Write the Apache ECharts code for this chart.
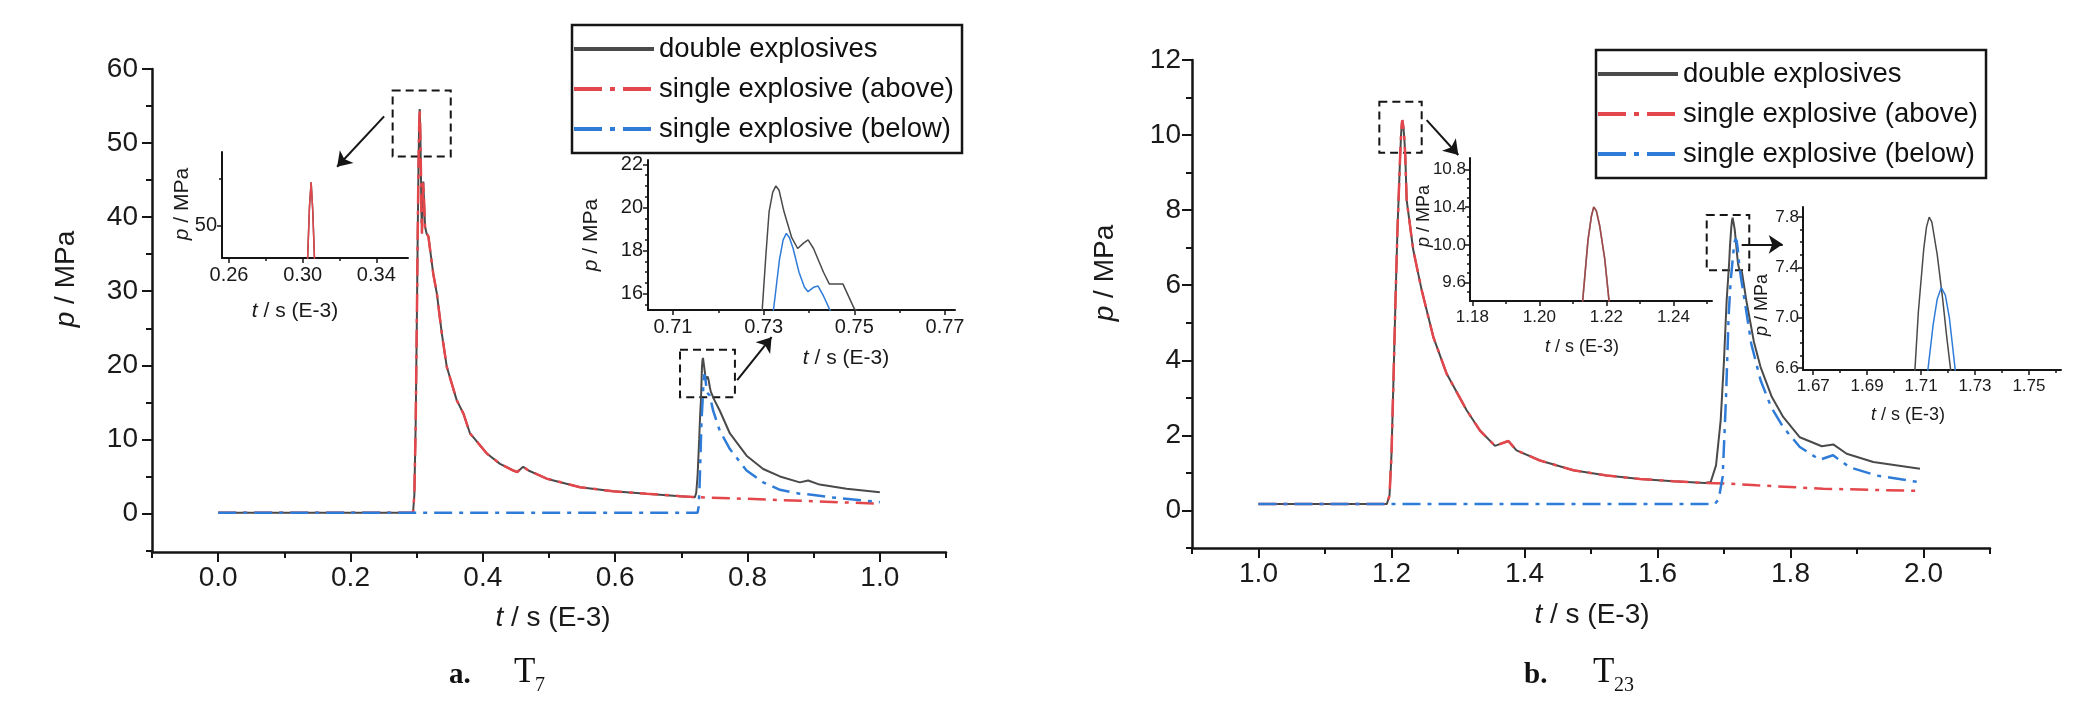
<!DOCTYPE html>
<html>
<head>
<meta charset="utf-8">
<title>p-t curves T7 / T23</title>
<script src="https://cdn.jsdelivr.net/npm/echarts@6.0.0/dist/echarts.min.js"></script>
<style>
  html, body { margin: 0; padding: 0; background: #fff; }
  #chart { width: 2074px; height: 713px; }
</style>
</head>
<body>
<div id="chart"></div>
<script>
/*----- data: a. T7 -----*/
var aWave1T = [0.000, 0.2945, 0.2965, 0.2985, 0.3005, 0.3015, 0.3027, 0.3037, 0.3046, 0.3055, 0.3064, 0.3072, 0.3080, 0.3090,
  0.3100, 0.3110, 0.3127, 0.3150, 0.3177, 0.3250, 0.3305, 0.3330, 0.3380, 0.3455, 0.3605, 0.3706, 0.3807, 0.4060, 0.4260,
  0.4460, 0.4520, 0.4610, 0.4690, 0.4965, 0.5470, 0.5970, 0.6475, 0.6980, 0.7205];
var aWave1P = [0.1, 0.1, 2.5, 12, 28, 37, 46.5, 52, 54.6, 51.5, 46.5, 40.5, 37.8, 42,
  44.8, 42.5, 38.7, 37.8, 37.4, 32.4, 29.7, 27.9, 24.3, 19.8, 15.3, 13.5, 10.8, 8.1, 6.7,
  5.8, 5.6, 6.3, 5.8, 4.7, 3.55, 3.0, 2.66, 2.34, 2.2];
var aDoubleT = [0.7225, 0.7245, 0.7270, 0.7285, 0.7297, 0.7305, 0.7312, 0.7320, 0.7327, 0.7334, 0.7345, 0.7362, 0.7375, 0.7388,
  0.7398, 0.7410, 0.7432, 0.7445, 0.7475, 0.7500, 0.7580, 0.7734, 0.7986, 0.8237, 0.8490, 0.8790, 0.8917, 0.9090, 0.9497, 1.0000];
var aDoubleP = [2.8, 5.0, 10.0, 13.5, 15.3, 17.8, 19.8, 20.7, 21.0, 20.8, 19.8, 18.6, 18.1, 18.35,
  18.5, 18.1, 17.0, 16.45, 16.45, 15.3, 13.9, 10.8, 7.8, 6.0, 5.0, 4.2, 4.46, 3.9, 3.34, 2.88];
var aAboveT = [0.7986, 0.8990, 1.0000];
var aAboveP = [1.98, 1.66, 1.31];
var aBelowT = [0.000, 0.7245, 0.7260, 0.7275, 0.7290, 0.7305, 0.7322, 0.7335, 0.7343, 0.7350, 0.7357, 0.7365, 0.7378, 0.7390,
  0.7398, 0.7410, 0.7420, 0.7432, 0.7445, 0.7480, 0.7580, 0.7734, 0.7986, 0.8237, 0.8490, 0.8790, 0.8940, 0.9245, 1.0000];
var aBelowP = [0.1, 0.1, 0.8, 3.5, 8.0, 12.5, 15.3, 17.6, 18.5, 18.8, 18.6, 18.1, 17.0, 16.3,
  16.1, 16.3, 16.36, 15.9, 15.3, 13.9, 11.2, 8.7, 5.8, 4.2, 3.2, 2.66, 2.57, 2.2, 1.53];

/*----- data: b. T23 -----*/
var bWave1T = [1.000, 1.193, 1.197, 1.200, 1.203, 1.206, 1.209, 1.2115, 1.2129, 1.2145, 1.2155, 1.2162, 1.2170, 1.2180, 1.2195,
  1.2208, 1.2228, 1.2328, 1.2454, 1.2629, 1.2830, 1.3130, 1.3330, 1.3556, 1.3757, 1.3880, 1.4233, 1.4734, 1.5236, 1.5737,
  1.6238, 1.6714];
var bWave1P = [0.17, 0.17, 0.4, 1.5, 3.5, 5.6, 7.5, 8.7, 9.4, 10.05, 10.3, 10.4, 10.36, 10.2, 9.85,
  9.4, 8.27, 6.93, 5.87, 4.62, 3.64, 2.67, 2.13, 1.72, 1.85, 1.6, 1.33, 1.07, 0.93, 0.84,
  0.78, 0.73];
var bDoubleT = [1.680, 1.688, 1.695, 1.700, 1.704, 1.7077, 1.709, 1.711, 1.712, 1.713, 1.714, 1.716, 1.718, 1.7195, 1.721,
  1.723, 1.727, 1.7335, 1.745, 1.755, 1.772, 1.789, 1.814, 1.847, 1.8643, 1.8845, 1.9245, 1.9947];
var bDoubleP = [0.76, 1.2, 2.4, 4.0, 5.6, 6.58, 7.05, 7.55, 7.72, 7.8, 7.76, 7.5, 7.15, 6.85, 6.58,
  6.42, 6.35, 5.6, 4.49, 3.82, 3.02, 2.49, 1.95, 1.71, 1.76, 1.51, 1.29, 1.11];
var bAboveT = [1.700, 1.749, 1.849, 1.995];
var bAboveP = [0.72, 0.67, 0.58, 0.52];
var bBelowT = [1.000, 1.686, 1.692, 1.698, 1.703, 1.707, 1.710, 1.7125, 1.7145, 1.716, 1.7175, 1.719, 1.7205, 1.7227, 1.7255,
  1.731, 1.741, 1.755, 1.771, 1.789, 1.814, 1.844, 1.864, 1.889, 1.9296, 1.9947];
var bBelowP = [0.17, 0.17, 0.3, 0.9, 3.0, 5.2, 6.1, 6.58, 6.95, 7.15, 7.24, 7.18, 7.0, 6.58, 6.2,
  5.6, 4.44, 3.47, 2.75, 2.22, 1.69, 1.35, 1.47, 1.15, 0.93, 0.75];

/*----- tick values -----*/
var aXMajor = [0, 0.2, 0.4, 0.6, 0.8, 1.0];
var aXMinor = [-0.1, 0.1, 0.3, 0.5, 0.7, 0.9, 1.1];
var aYMajor = [0, 10, 20, 30, 40, 50, 60];
var aYMinor = [-5, 5, 15, 25, 35, 45, 55];
var bXMajor = [1.0, 1.2, 1.4, 1.6, 1.8, 2.0];
var bXMinor = [0.9, 1.1, 1.3, 1.5, 1.7, 1.9, 2.1];
var bYMajor = [0, 2, 4, 6, 8, 10, 12];
var bYMinor = [-1, 1, 3, 5, 7, 9, 11];
var i1XMajor = [0.26, 0.30, 0.34];
var i1XMinor = [0.28, 0.32];
var i1YMajor = [50];
var i1YMinor = [55];
var i2XMajor = [0.71, 0.73, 0.75, 0.77];
var i2XMinor = [0.72, 0.74, 0.76];
var i2YMajor = [16, 18, 20, 22];
var i2YMinor = [15.5, 16.5, 17, 17.5, 18.5, 19, 19.5, 20.5, 21, 21.5];
var i3XMajor = [1.18, 1.20, 1.22, 1.24];
var i3XMinor = [1.19, 1.21, 1.23, 1.25];
var i3YMajor = [9.6, 10.0, 10.4, 10.8];
var i3YMinor = [9.5, 9.7, 9.8, 9.9, 10.1, 10.2, 10.3, 10.5, 10.6, 10.7];
var i4XMajor = [1.67, 1.69, 1.71, 1.73, 1.75];
var i4XMinor = [1.68, 1.70, 1.72, 1.74, 1.76];
var i4YMajor = [6.6, 7.0, 7.4, 7.8];
var i4YMinor = [6.7, 6.8, 6.9, 7.1, 7.2, 7.3, 7.5, 7.6, 7.7];

/*----- zoom boxes [t1, p1, t2, p2] and arrows [t1, p1, t2, p2] -----*/
var aBoxes = [[0.2637, 57.1, 0.3515, 48.2], [0.698, 22.1, 0.781, 15.7]];
var aArrows = [[0.2508, 53.6, 0.1798, 46.8], [0.7844, 18.0, 0.8364, 23.8]];
var bBoxes = [[1.1817, 10.89, 1.2454, 9.53], [1.674, 7.87, 1.738, 6.4]];
var bArrows = [[1.2529, 10.4, 1.3005, 9.47], [1.7266, 7.09, 1.7883, 7.09]];

var names = ['double explosives', 'single explosive (above)', 'single explosive (below)'];

var FONT = "'Liberation Sans', Arial, sans-serif";
var SERIF = "'Liberation Serif', 'DejaVu Serif', serif";
var INK = '#151515';
var C_BLACK = '#4a4a4a', C_RED = '#e4474b', C_BLUE = '#2f7cd8';
var DASHDOT = [18, 7, 4, 7];

function zip(t, p) {
  return t.map(function (v, i) { return [v, p[i]]; });
}

var aWave1 = zip(aWave1T, aWave1P);
var aDouble = aWave1.concat(zip(aDoubleT, aDoubleP));
var aAbove = aWave1.concat(zip(aAboveT, aAboveP));
var aBelow = zip(aBelowT, aBelowP);
var bWave1 = zip(bWave1T, bWave1P);
var bDouble = bWave1.concat(zip(bDoubleT, bDoubleP));
var bAbove = bWave1.concat(zip(bAboveT, bAboveP));
var bBelow = zip(bBelowT, bBelowP);

/*----- grids -----*/
var grids = [
  { left: 152, top: 69, width: 794, height: 483 },   // a main
  { left: 1192, top: 60, width: 798, height: 488 },  // b main
  { left: 222, top: 152, width: 186, height: 106 },  // a inset 1
  { left: 648, top: 160, width: 307, height: 150 },  // a inset 2
  { left: 1470, top: 158, width: 242, height: 143 }, // b inset 1
  { left: 1803, top: 207, width: 258, height: 163 }  // b inset 2
];

var xAxes = [], yAxes = [];

function axisPair(list, dim, gi, min, max, major, minor, o) {
  var pos = dim === 'x' ? 'bottom' : 'left';
  list.push({
    type: 'value', gridIndex: gi, position: pos, min: min, max: max,
    splitLine: { show: false },
    axisLine: { show: true, onZero: false, lineStyle: { color: INK, width: o.lw } },
    axisTick: { show: true, inside: false, length: o.tl, customValues: major, lineStyle: { color: INK, width: o.tw } },
    axisLabel: {
      show: true, customValues: major, margin: o.margin, fontSize: o.fs, fontFamily: FONT, color: '#1a1a1a',
      formatter: function (v) { return v.toFixed(o.dec); }
    }
  });
  list.push({
    type: 'value', gridIndex: gi, position: pos, min: min, max: max,
    splitLine: { show: false },
    axisLine: { show: false, onZero: false },
    axisTick: { show: true, inside: false, length: o.ml, customValues: minor, lineStyle: { color: INK, width: o.tw } },
    axisLabel: { show: false }
  });
}

var mainX = { lw: 2.5, tl: 10, ml: 6, tw: 2, margin: 12, fs: 28 };
axisPair(xAxes, 'x', 0, -0.1, 1.1, aXMajor, aXMinor, Object.assign({ dec: 1 }, mainX));
axisPair(yAxes, 'y', 0, -5.2, 60, aYMajor, aYMinor, Object.assign({ dec: 0 }, mainX, { margin: 14 }));
axisPair(xAxes, 'x', 1, 0.9, 2.1, bXMajor, bXMinor, Object.assign({ dec: 1 }, mainX));
axisPair(yAxes, 'y', 1, -1, 12, bYMajor, bYMinor, Object.assign({ dec: 0 }, mainX, { margin: 11 }));

var insetA = { lw: 2, tl: 5, ml: 3, tw: 1.5, margin: 7, fs: 20 };
axisPair(xAxes, 'x', 2, 0.2562, 0.3572, i1XMajor, i1XMinor, Object.assign({ dec: 2 }, insetA));
axisPair(yAxes, 'y', 2, 46.5, 57.85, i1YMajor, i1YMinor, Object.assign({ dec: 0 }, insetA, { margin: 5 }));
axisPair(xAxes, 'x', 3, 0.7045, 0.7722, i2XMajor, i2XMinor, Object.assign({ dec: 2 }, insetA));
axisPair(yAxes, 'y', 3, 15.25, 22.2, i2YMajor, i2YMinor, Object.assign({ dec: 0 }, insetA, { margin: 5 }));

var insetB = { lw: 2, tl: 5, ml: 3, tw: 1.5, margin: 8, fs: 17 };
axisPair(xAxes, 'x', 4, 1.1793, 1.2515, i3XMajor, i3XMinor, Object.assign({ dec: 2 }, insetB));
axisPair(yAxes, 'y', 4, 9.405, 10.92, i3YMajor, i3YMinor, Object.assign({ dec: 1 }, insetB, { margin: 4 }));
axisPair(xAxes, 'x', 5, 1.6662, 1.7619, i4XMajor, i4XMinor, Object.assign({ dec: 2 }, insetB));
axisPair(yAxes, 'y', 5, 6.585, 7.88, i4YMajor, i4YMinor, Object.assign({ dec: 1 }, insetB, { margin: 4 }));

/*----- series -----*/
function line(name, data, gi, color, width, type, opacity) {
  return {
    name: name, type: 'line', data: data,
    xAxisIndex: gi * 2, yAxisIndex: gi * 2,
    symbol: 'none', showSymbol: false, clip: true, silent: true,
    lineStyle: { color: color, width: width, type: type || 'solid', opacity: opacity == null ? 1 : opacity },
    itemStyle: { color: color }
  };
}

function annotate(s, boxes, arrows) {
  s.markArea = {
    silent: true,
    itemStyle: { color: 'rgba(0,0,0,0)', borderColor: INK, borderWidth: 2, borderType: [8, 5] },
    data: boxes.map(function (b) { return [{ coord: [b[0], b[1]] }, { coord: [b[2], b[3]] }]; })
  };
  s.markLine = {
    silent: true, symbol: ['none', 'arrow'], symbolSize: 14,
    label: { show: false },
    itemStyle: { color: INK },
    lineStyle: { color: INK, width: 2, type: 'solid' },
    data: arrows.map(function (a) { return [{ coord: [a[0], a[1]] }, { coord: [a[2], a[3]] }]; })
  };
  return s;
}

var series = [
  annotate(line(names[0], aDouble, 0, C_BLACK, 2), aBoxes, aArrows),
  line(names[1], aAbove, 0, C_RED, 2.5, DASHDOT),
  line(names[2], aBelow, 0, C_BLUE, 2.5, DASHDOT),
  annotate(line(names[0], bDouble, 1, C_BLACK, 2), bBoxes, bArrows),
  line(names[1], bAbove, 1, C_RED, 2.5, DASHDOT),
  line(names[2], bBelow, 1, C_BLUE, 2.5, DASHDOT),
  // insets (solid thin lines)
  line('a1 double', aDouble, 2, C_BLACK, 1.5),
  line('a1 above', aAbove, 2, C_RED, 1.5),
  line('a2 double', aDouble, 3, C_BLACK, 1.5),
  line('a2 below', aBelow, 3, C_BLUE, 1.5),
  line('b1 double', bDouble, 4, C_BLACK, 1.6),
  line('b1 above', bAbove, 4, C_RED, 1.6, 'solid', 0.55),
  line('b2 double', bDouble, 5, C_BLACK, 1.5),
  line('b2 below', bBelow, 5, C_BLUE, 1.5)
];

/*----- legends -----*/
var NO_DOT = { color: 'rgba(0,0,0,0)', borderWidth: 0, opacity: 0 };
function legendAt(left, top) {
  return {
    left: left, top: top, orient: 'vertical', selectedMode: false,
    padding: [6, 8, 6, 0], borderColor: INK, borderWidth: 2.5,
    itemWidth: 80, itemHeight: 14, itemGap: 4,
    textStyle: { fontSize: 27.5, fontFamily: FONT, color: '#111', lineHeight: 36 },
    data: [
      { name: names[0], itemStyle: NO_DOT, lineStyle: { width: 4, color: C_BLACK } },
      { name: names[1], itemStyle: NO_DOT, lineStyle: { width: 4, color: C_RED, type: [28, 8, 5, 8] } },
      { name: names[2], itemStyle: NO_DOT, lineStyle: { width: 4, color: C_BLUE, type: [28, 8, 5, 8] } }
    ]
  };
}

/*----- axis titles and captions -----*/
function title(x, y, str, size, vertical) {
  var it = { fontStyle: 'italic', fontSize: size, fontFamily: FONT, fill: '#1a1a1a' };
  var up = { fontSize: size, fontFamily: FONT, fill: '#1a1a1a' };
  return {
    type: 'text', x: x, y: y, rotation: vertical ? Math.PI / 2 : 0, silent: true,
    style: {
      text: str, fontSize: size, fontFamily: FONT, fill: '#1a1a1a', align: 'center', verticalAlign: 'middle',
      rich: { i: it, u: up }
    }
  };
}
var P_LABEL = '{i|p}{u| / MPa}';
var T_LABEL = '{i|t}{u| / s (E-3)}';

function plain(x, y, str, size, weight) {
  return {
    type: 'text', x: x, y: y, silent: true,
    style: { text: str, fontSize: size, fontWeight: weight || 'normal', fontFamily: SERIF, fill: '#111', align: 'left', verticalAlign: 'middle' }
  };
}

var graphics = [
  title(66, 279, P_LABEL, 28, true),
  title(553, 618, T_LABEL, 28),
  title(182, 204, P_LABEL, 21, true),
  title(295, 311, T_LABEL, 21),
  title(591, 235, P_LABEL, 21, true),
  title(846, 358, T_LABEL, 21),
  title(1105, 273, P_LABEL, 28, true),
  title(1592, 615, T_LABEL, 28),
  title(1424, 216, P_LABEL, 18, true),
  title(1582, 347, T_LABEL, 18),
  title(1762, 305, P_LABEL, 18, true),
  title(1908, 415, T_LABEL, 18),
  // captions
  plain(449, 676, 'a.', 29, 'bold'),
  plain(514, 673, 'T', 35),
  plain(535, 686, '7', 20),
  plain(1524, 676, 'b.', 29, 'bold'),
  plain(1593, 673, 'T', 35),
  plain(1614, 686, '23', 20)
];

var chart = echarts.init(document.getElementById('chart'));
chart.setOption({
  animation: false,
  backgroundColor: '#fff',
  grid: grids,
  xAxis: xAxes,
  yAxis: yAxes,
  legend: [legendAt(572, 25), legendAt(1596, 50)],
  series: series,
  graphic: graphics
});
</script>
</body>
</html>
